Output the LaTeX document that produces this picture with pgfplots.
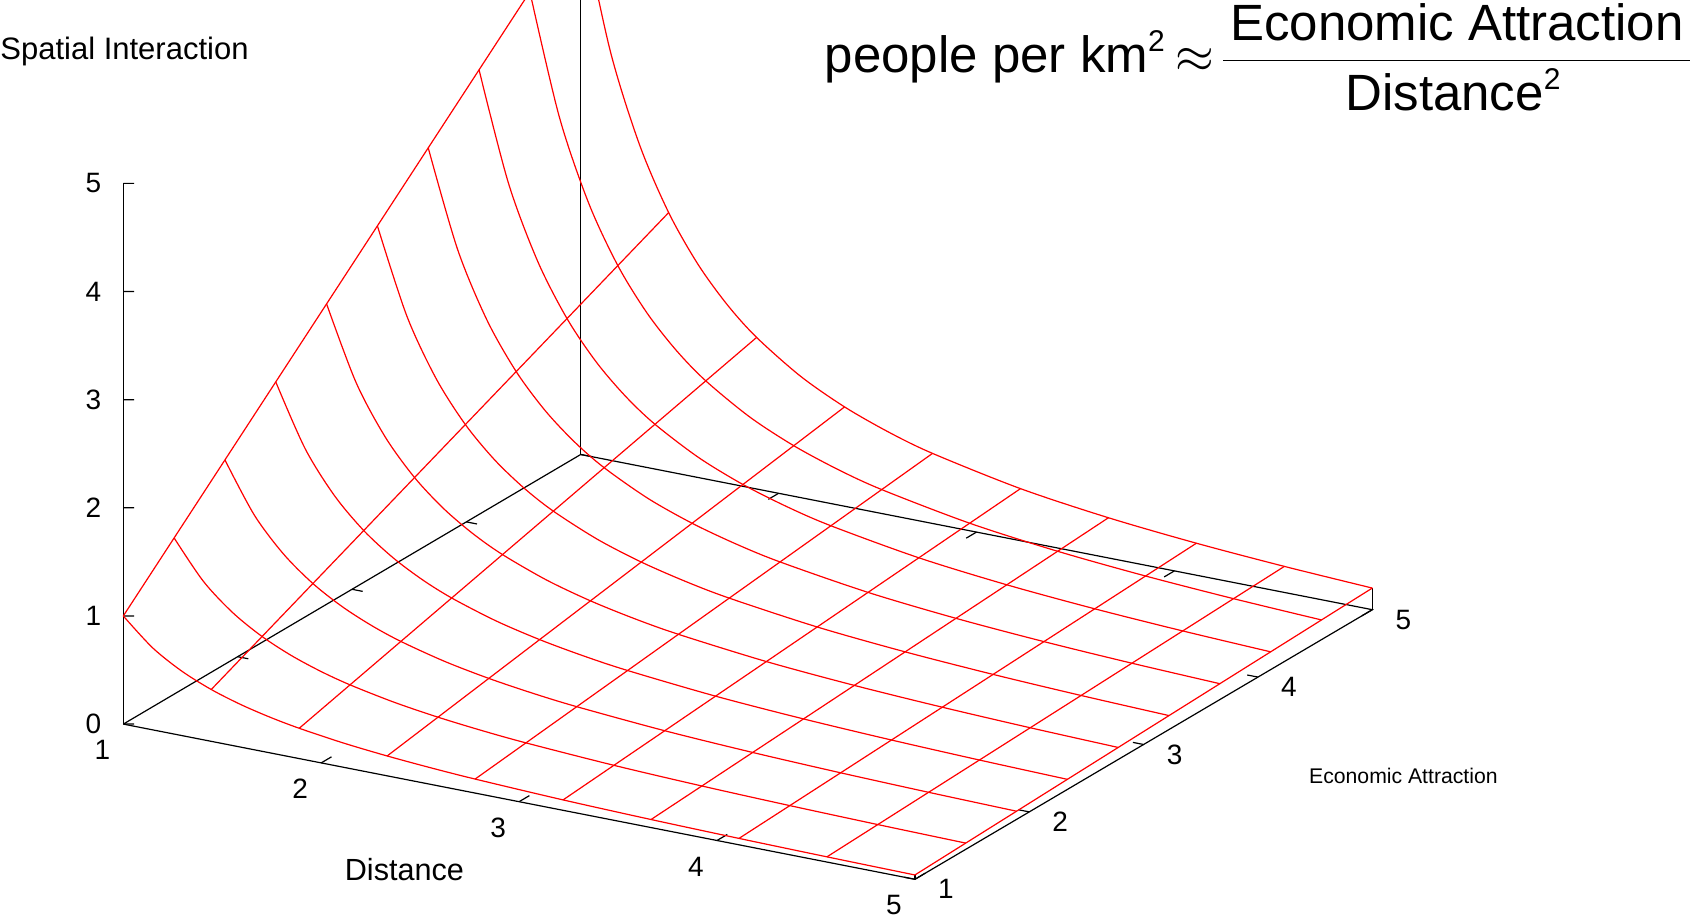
\documentclass[border=0pt]{standalone}
\usepackage{fontspec}
\setmainfont{Liberation Sans}
\usepackage{pgfplots}
\pgfplotsset{compat=1.18}
\definecolor{gpred}{RGB}{255,0,0}
\newcommand{\tickfont}{\fontsize{14}{16}\selectfont}
\begin{document}
\begin{tikzpicture}
\path[use as bounding box] (0,0) rectangle (845pt,459.5pt);
\clip (0,0) rectangle (845pt,459.5pt);
\begin{axis}[
  at={(61.65pt,19.85pt)}, anchor=south west,
  x={(98.95pt,-19.4pt)}, y={(57.175pt,33.7pt)}, z={(0pt,54.07pt)},
  xmin=1,xmax=5,ymin=1,ymax=5,zmin=0,zmax=5,
  hide axis, clip=false,
  every axis plot/.append style={line width=0.6pt},
]
% box, corner lines and ticks
\addplot3[black, no marks] coordinates {(1,1,0) (5,1,0) (5,5,0) (1,5,0) (1,1,0)};
\addplot3[black, no marks] coordinates {(1,1,0) (1,1,5)};
\addplot3[black, no marks] coordinates {(1,5,0) (1,5,5)};
\addplot3[black, no marks] coordinates {(5,1,0) (5,1,0.04)};
\addplot3[black, no marks] coordinates {(5,5,0) (5,5,0.2)};
\addplot3[black, no marks, unbounded coords=jump] coordinates {
 (2,1,0) (2,1.09,0) (nan,nan,nan) (3,1,0) (3,1.09,0) (nan,nan,nan) (4,1,0) (4,1.09,0) (nan,nan,nan) (5,1,0) (5,1.09,0) (nan,nan,nan)
 (2,5,0) (2,4.91,0) (nan,nan,nan) (3,5,0) (3,4.91,0) (nan,nan,nan) (4,5,0) (4,4.91,0) (nan,nan,nan) (5,5,0) (5,4.91,0) (nan,nan,nan)
 (5,1,0) (4.946,1,0) (nan,nan,nan) (5,2,0) (4.946,2,0) (nan,nan,nan) (5,3,0) (4.946,3,0) (nan,nan,nan) (5,4,0) (4.946,4,0) (nan,nan,nan)
 (1,2,0) (1.054,2,0) (nan,nan,nan) (1,3,0) (1.054,3,0) (nan,nan,nan) (1,4,0) (1.054,4,0) (nan,nan,nan) (1,5,0) (1.054,5,0) (nan,nan,nan)
 (1,1,0) (1.0406,1.0234,0) (nan,nan,nan) (1,1,1) (1.0406,1.0234,1) (nan,nan,nan) (1,1,2) (1.0406,1.0234,2) (nan,nan,nan)
 (1,1,3) (1.0406,1.0234,3) (nan,nan,nan) (1,1,4) (1.0406,1.0234,4) (nan,nan,nan) (1,1,5) (1.0406,1.0234,5)
};
% surface: lines of constant Distance (straight in A)
\addplot3[gpred, no marks] coordinates {(1,1,1) (1,5,5)};
\addplot3[gpred, no marks] coordinates {(1.44444,1,0.4793) (1.44444,5,2.3964)};
\addplot3[gpred, no marks] coordinates {(1.88889,1,0.2803) (1.88889,5,1.4014)};
\addplot3[gpred, no marks] coordinates {(2.33333,1,0.1837) (2.33333,5,0.9184)};
\addplot3[gpred, no marks] coordinates {(2.77778,1,0.1296) (2.77778,5,0.648)};
\addplot3[gpred, no marks] coordinates {(3.22222,1,0.0963) (3.22222,5,0.4816)};
\addplot3[gpred, no marks] coordinates {(3.66667,1,0.0744) (3.66667,5,0.3719)};
\addplot3[gpred, no marks] coordinates {(4.11111,1,0.0592) (4.11111,5,0.2958)};
\addplot3[gpred, no marks] coordinates {(4.55556,1,0.0482) (4.55556,5,0.2409)};
\addplot3[gpred, no marks] coordinates {(5,1,0.04) (5,5,0.2)};
% surface: lines of constant Economic Attraction (curved in Distance)
\addplot3[gpred, no marks, smooth] coordinates {(1,1,1) (1.14815,1,0.7586) (1.2963,1,0.5951) (1.44444,1,0.4793) (1.59259,1,0.3943) (1.74074,1,0.3300) (1.88889,1,0.2803) (2.11111,1,0.2244) (2.33333,1,0.1837) (2.55556,1,0.1531) (2.77778,1,0.1296) (3.22222,1,0.0963) (3.66667,1,0.0744) (4.11111,1,0.0592) (4.55556,1,0.0482) (5,1,0.04)};
\addplot3[gpred, no marks, smooth] coordinates {(1,1.44444,1.4444) (1.14815,1.44444,1.0957) (1.2963,1.44444,0.8596) (1.44444,1.44444,0.6923) (1.59259,1.44444,0.5695) (1.74074,1.44444,0.4767) (1.88889,1.44444,0.4048) (2.11111,1.44444,0.3241) (2.33333,1.44444,0.2653) (2.55556,1.44444,0.2212) (2.77778,1.44444,0.1872) (3.22222,1.44444,0.1391) (3.66667,1.44444,0.1074) (4.11111,1.44444,0.0855) (4.55556,1.44444,0.0696) (5,1.44444,0.0578)};
\addplot3[gpred, no marks, smooth] coordinates {(1,1.88889,1.8889) (1.14815,1.88889,1.4329) (1.2963,1.88889,1.1241) (1.44444,1.88889,0.9053) (1.59259,1.88889,0.7447) (1.74074,1.88889,0.6234) (1.88889,1.88889,0.5294) (2.11111,1.88889,0.4238) (2.33333,1.88889,0.3469) (2.55556,1.88889,0.2892) (2.77778,1.88889,0.2448) (3.22222,1.88889,0.1819) (3.66667,1.88889,0.1405) (4.11111,1.88889,0.1118) (4.55556,1.88889,0.0910) (5,1.88889,0.0756)};
\addplot3[gpred, no marks, smooth] coordinates {(1,2.33333,2.3333) (1.14815,2.33333,1.7700) (1.2963,2.33333,1.3886) (1.44444,2.33333,1.1183) (1.59259,2.33333,0.9200) (1.74074,2.33333,0.7700) (1.88889,2.33333,0.6540) (2.11111,2.33333,0.5236) (2.33333,2.33333,0.4286) (2.55556,2.33333,0.3573) (2.77778,2.33333,0.3024) (3.22222,2.33333,0.2247) (3.66667,2.33333,0.1736) (4.11111,2.33333,0.1381) (4.55556,2.33333,0.1124) (5,2.33333,0.0933)};
\addplot3[gpred, no marks, smooth] coordinates {(1,2.77778,2.7778) (1.14815,2.77778,2.1072) (1.2963,2.77778,1.6531) (1.44444,2.77778,1.3314) (1.59259,2.77778,1.0952) (1.74074,2.77778,0.9167) (1.88889,2.77778,0.7785) (2.11111,2.77778,0.6233) (2.33333,2.77778,0.5102) (2.55556,2.77778,0.4253) (2.77778,2.77778,0.3600) (3.22222,2.77778,0.2675) (3.66667,2.77778,0.2066) (4.11111,2.77778,0.1644) (4.55556,2.77778,0.1338) (5,2.77778,0.1111)};
\addplot3[gpred, no marks, smooth] coordinates {(1,3.22222,3.2222) (1.14815,3.22222,2.4443) (1.2963,3.22222,1.9176) (1.44444,3.22222,1.5444) (1.59259,3.22222,1.2704) (1.74074,3.22222,1.0634) (1.88889,3.22222,0.9031) (2.11111,3.22222,0.7230) (2.33333,3.22222,0.5918) (2.55556,3.22222,0.4934) (2.77778,3.22222,0.4176) (3.22222,3.22222,0.3103) (3.66667,3.22222,0.2397) (4.11111,3.22222,0.1907) (4.55556,3.22222,0.1553) (5,3.22222,0.1289)};
\addplot3[gpred, no marks, smooth] coordinates {(1,3.66667,3.6667) (1.14815,3.66667,2.7815) (1.2963,3.66667,2.1820) (1.44444,3.66667,1.7574) (1.59259,3.66667,1.4456) (1.74074,3.66667,1.2100) (1.88889,3.66667,1.0277) (2.11111,3.66667,0.8227) (2.33333,3.66667,0.6735) (2.55556,3.66667,0.5614) (2.77778,3.66667,0.4752) (3.22222,3.66667,0.3532) (3.66667,3.66667,0.2727) (4.11111,3.66667,0.2169) (4.55556,3.66667,0.1767) (5,3.66667,0.1467)};
\addplot3[gpred, no marks, smooth] coordinates {(1,4.11111,4.1111) (1.14815,4.11111,3.1186) (1.2963,4.11111,2.4465) (1.44444,4.11111,1.9704) (1.59259,4.11111,1.6209) (1.74074,4.11111,1.3567) (1.88889,4.11111,1.1522) (2.11111,4.11111,0.9225) (2.33333,4.11111,0.7551) (2.55556,4.11111,0.6295) (2.77778,4.11111,0.5328) (3.22222,4.11111,0.3960) (3.66667,4.11111,0.3058) (4.11111,4.11111,0.2432) (4.55556,4.11111,0.1981) (5,4.11111,0.1644)};
\addplot3[gpred, no marks, smooth] coordinates {(1,4.55556,4.5556) (1.14815,4.55556,3.4558) (1.2963,4.55556,2.7110) (1.44444,4.55556,2.1834) (1.59259,4.55556,1.7961) (1.74074,4.55556,1.5034) (1.88889,4.55556,1.2768) (2.11111,4.55556,1.0222) (2.33333,4.55556,0.8367) (2.55556,4.55556,0.6975) (2.77778,4.55556,0.5904) (3.22222,4.55556,0.4388) (3.66667,4.55556,0.3388) (4.11111,4.55556,0.2695) (4.55556,4.55556,0.2195) (5,4.55556,0.1822)};
\addplot3[gpred, no marks, smooth] coordinates {(1,5,5) (1.14815,5,3.7929) (1.2963,5,2.9755) (1.44444,5,2.3964) (1.59259,5,1.9713) (1.74074,5,1.6501) (1.88889,5,1.4014) (2.11111,5,1.1219) (2.33333,5,0.9184) (2.55556,5,0.7656) (2.77778,5,0.6480) (3.22222,5,0.4816) (3.66667,5,0.3719) (4.11111,5,0.2958) (4.55556,5,0.2409) (5,5,0.2)};
% tick labels
\pgfplotsinvokeforeach{1,2,3,4,5}{
  \node[font=\tickfont, inner sep=0pt, xshift=-10.5pt, yshift=-13pt] at (axis cs:#1,1,0) {#1};
  \node[font=\tickfont, inner sep=0pt, xshift=15.5pt, yshift=-5pt] at (axis cs:5,#1,0) {#1};
}
\pgfplotsinvokeforeach{0,1,2,3,4,5}{
  \node[font=\tickfont, inner sep=0pt, anchor=east, xshift=-10.8pt] at (axis cs:1,1,#1) {#1};
}
\end{axis}
% axis labels
\node[font=\fontsize{15.5}{18}\selectfont, anchor=base west, inner sep=0pt] at (0pt,429.75pt) {Spatial Interaction};
\node[font=\fontsize{15.3}{18}\selectfont, inner sep=0pt] at (202.2pt,24.5pt) {Distance};
\node[font=\fontsize{10.6}{12}\selectfont, inner sep=0pt] at (701.7pt,71.5pt) {Economic Attraction};
% title
\node[font=\fontsize{25.5}{30}\selectfont, anchor=base west, inner sep=0pt] at (412.25pt,423pt) {people per km\raisebox{0.42em}{\fontsize{15}{15}\selectfont 2}};
\node[font=\fontsize{25.5}{30}\selectfont, inner sep=0pt] at (597.5pt,429.5pt) {$\approx$};
\draw[line width=0.75pt] (611.5pt,429.3pt) -- (845pt,429.3pt);
\node[font=\fontsize{25.5}{30}\selectfont, anchor=base, inner sep=0pt] at (728.5pt,439pt) {Economic Attraction};
\node[font=\fontsize{25.5}{30}\selectfont, anchor=base west, inner sep=0pt] at (672.5pt,404pt) {Distance\raisebox{0.42em}{\fontsize{15}{15}\selectfont 2}};
\end{tikzpicture}
\end{document}
